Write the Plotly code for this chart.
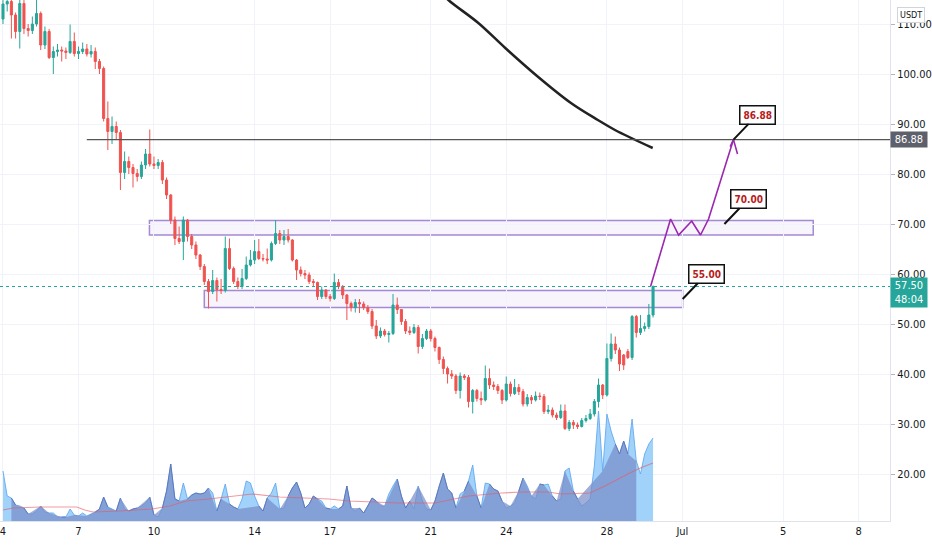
import pandas as pd
import plotly.graph_objects as go
from datetime import datetime, timedelta

########## CANDLES (4h, from Jun 4 00:00) ##########
opens = [111.0, 114.0, 114.5, 111.8, 108.5, 114.1, 109.1, 108.7, 110.0, 112.1,
         105.8, 108.5, 103.3, 104.5, 104.8, 104.6, 104.3, 106.5, 104.1, 104.5,
         105.0, 104.0, 104.5, 102.5, 101.1, 91.1, 88.5, 89.5, 88.3, 80.3,
         82.5, 81.3, 80.1, 79.5, 81.8, 84.0, 82.0, 81.7, 82.3, 78.8,
         75.8, 70.8, 67.1, 66.5, 70.8, 67.5, 65.8, 63.8, 61.5, 58.5,
         56.5, 58.7, 56.9, 56.7, 65.1, 61.1, 58.5, 57.5, 59.1, 61.8,
         62.8, 64.5, 63.1, 63.0, 62.8, 66.1, 68.1, 66.8, 67.5, 66.8,
         62.8, 60.8, 60.1, 59.8, 58.5, 58.3, 55.5, 56.8, 55.5, 55.1,
         58.3, 57.5, 55.8, 54.1, 53.3, 54.3, 54.0, 53.3, 52.5, 49.6,
         47.6, 48.6, 47.9, 48.1, 53.8, 52.9, 50.5, 48.6, 48.3, 49.3,
         45.5, 47.1, 48.6, 47.1, 45.3, 42.9, 41.1, 40.0, 39.6, 36.7,
         39.6, 39.3, 34.5, 36.7, 35.1, 34.8, 39.1, 37.8, 37.5, 36.7,
         34.8, 38.0, 36.1, 37.3, 36.5, 34.0, 35.3, 34.8, 35.6, 35.5,
         32.5, 32.8, 31.8, 31.3, 32.6, 29.1, 30.3, 29.8, 29.5, 30.7,
         31.1, 32.0, 34.5, 37.8, 35.8, 43.1, 46.0, 44.8, 43.8, 44.5,
         43.3, 51.5, 48.3, 49.1, 49.5, 51.8]
closes = [114.0, 114.5, 111.8, 108.5, 114.1, 109.1, 108.7, 110.0, 112.1, 105.8,
          108.5, 103.3, 104.5, 104.8, 104.6, 104.3, 106.5, 104.1, 104.5, 105.0,
          104.0, 104.5, 102.5, 101.1, 91.1, 88.5, 89.5, 88.3, 80.3, 82.5,
          81.3, 80.1, 79.5, 81.8, 84.0, 82.0, 81.7, 82.3, 78.8, 75.8,
          70.8, 67.1, 66.5, 70.8, 67.5, 65.8, 63.8, 61.5, 58.5, 56.5,
          58.7, 56.9, 56.7, 65.1, 61.1, 58.5, 57.5, 59.1, 61.8, 62.8,
          64.5, 63.1, 63.0, 62.8, 66.1, 68.1, 66.8, 67.5, 66.8, 62.8,
          60.8, 60.1, 59.8, 58.5, 58.3, 55.5, 56.8, 55.5, 55.1, 58.3,
          57.5, 55.8, 54.1, 53.3, 54.3, 54.0, 53.3, 52.5, 49.6, 47.6,
          48.6, 47.9, 48.1, 53.8, 52.9, 50.5, 48.6, 48.3, 49.3, 45.5,
          47.1, 48.6, 47.1, 45.3, 42.9, 41.1, 40.0, 39.6, 36.7, 39.6,
          39.3, 34.5, 36.7, 35.1, 34.8, 39.1, 37.8, 37.5, 36.7, 34.8,
          38.0, 36.1, 37.3, 36.5, 34.0, 35.3, 34.8, 35.6, 35.5, 32.5,
          32.8, 31.8, 31.3, 32.6, 29.1, 30.3, 29.8, 29.5, 30.7, 31.1,
          32.0, 34.5, 37.8, 35.8, 43.1, 46.0, 44.8, 42.0, 41.8, 43.3,
          51.5, 48.3, 49.1, 49.5, 51.8, 57.5]
highs = [115.5, 116.0, 115.5, 112.3, 115.0, 114.8, 110.0, 111.5, 114.8, 112.5,
         109.5, 109.0, 105.5, 106.0, 105.5, 105.3, 109.9, 108.3, 105.5, 106.3,
         106.0, 105.8, 105.3, 103.0, 101.5, 94.5, 91.5, 90.5, 88.8, 84.5,
         83.5, 82.0, 81.0, 82.5, 85.0, 88.9, 83.5, 83.0, 82.8, 79.3,
         76.0, 71.5, 69.5, 71.5, 71.0, 68.0, 66.5, 64.0, 62.0, 59.0,
         60.8, 59.3, 59.0, 67.5, 67.1, 61.5, 59.3, 61.0, 63.5, 64.8,
         66.8, 67.0, 64.0, 65.1, 66.5, 70.8, 68.8, 68.8, 69.0, 67.0,
         63.0, 61.5, 60.8, 60.3, 59.0, 58.5, 57.5, 57.0, 56.0, 60.1,
         59.0, 57.8, 56.0, 54.5, 55.0, 55.0, 54.5, 53.8, 53.0, 50.8,
         49.3, 49.0, 48.6, 56.0, 55.3, 53.0, 51.0, 49.5, 50.0, 49.8,
         48.0, 49.0, 49.0, 47.5, 45.5, 43.5, 41.5, 40.8, 40.0, 40.3,
         40.0, 39.8, 37.0, 37.0, 36.5, 41.7, 41.1, 38.5, 38.0, 37.0,
         39.5, 38.5, 39.0, 38.0, 37.0, 36.0, 35.8, 36.5, 36.3, 36.0,
         33.8, 33.3, 32.3, 33.9, 33.9, 30.8, 30.8, 30.3, 31.2, 31.8,
         33.0, 35.0, 39.1, 38.0, 46.1, 48.1, 47.5, 45.3, 44.0, 45.0,
         51.8, 51.8, 51.8, 50.3, 54.0, 57.7]
lows = [110.0, 112.5, 107.1, 107.1, 105.1, 108.0, 107.5, 108.0, 109.5, 104.8,
        105.0, 103.0, 100.0, 103.5, 102.5, 103.0, 104.0, 103.5, 103.0, 104.0,
        103.5, 103.3, 101.0, 100.0, 90.5, 84.8, 86.0, 87.0, 76.8, 79.0,
        80.0, 77.3, 78.5, 79.0, 81.0, 81.5, 81.0, 81.0, 78.0, 75.0,
        70.0, 65.8, 66.0, 62.8, 66.5, 65.0, 63.0, 60.8, 57.8, 53.1,
        56.0, 54.5, 56.0, 56.3, 60.8, 58.0, 57.0, 57.0, 58.8, 61.5,
        62.0, 62.8, 62.5, 62.0, 62.5, 65.8, 66.0, 65.8, 66.3, 62.5,
        58.8, 59.5, 59.0, 58.0, 57.5, 54.8, 55.0, 55.0, 54.5, 54.8,
        57.0, 55.0, 50.8, 52.5, 52.3, 52.2, 52.8, 52.0, 49.0, 47.0,
        47.2, 47.5, 46.3, 47.8, 52.0, 49.8, 48.0, 47.8, 48.0, 44.1,
        45.0, 46.8, 46.5, 44.5, 42.0, 40.0, 38.1, 39.0, 36.0, 35.1,
        38.8, 33.3, 32.1, 34.5, 33.8, 34.5, 37.0, 36.8, 36.0, 34.0,
        34.5, 35.5, 35.8, 35.8, 33.5, 33.5, 34.0, 34.5, 34.8, 32.0,
        32.0, 31.3, 30.8, 31.0, 28.8, 28.6, 29.0, 29.0, 29.3, 30.3,
        30.8, 31.5, 33.3, 35.0, 35.5, 42.5, 44.0, 40.6, 40.8, 43.0,
        42.8, 47.3, 47.8, 48.5, 49.0, 51.3]
volumes = [50, 25, 23, 16, 15, 13, 7, 7, 10, 15,
           9, 8, 8, 4, 4, 4, 12, 6, 5, 8,
           5, 7, 9, 12, 24, 14, 12, 10, 23, 12,
           10, 12, 13, 15, 18, 24, 6, 4, 13, 30,
           57, 22, 20, 38, 22, 26, 28, 27, 28, 33,
           28, 10, 22, 37, 17, 14, 12, 22, 40, 38,
           25, 15, 10, 23, 28, 38, 12, 13, 25, 33,
           39, 28, 13, 17, 25, 22, 20, 13, 12, 15,
           12, 15, 35, 13, 10, 13, 8, 15, 23, 20,
           15, 15, 27, 35, 42, 25, 13, 20, 12, 35,
           20, 12, 11, 20, 35, 48, 32, 28, 13, 27,
           30, 40, 56, 25, 13, 38, 37, 32, 30, 20,
           13, 15, 18, 30, 43, 35, 25, 22, 37, 36,
           37, 25, 20, 22, 50, 53, 30, 22, 15, 18,
           22, 55, 110, 50, 107, 90, 77, 67, 80, 67,
           102, 60, 47, 67, 77, 83]

# volume moving average (June day, value)
vol_ma_days = [4.0, 4.4, 5.47, 6.93, 7.25, 7.57, 8.63, 9.93, 10.62, 11.28,
               12.17, 13.12, 13.9, 15.0, 15.77, 16.95, 17.75, 18.93, 19.72, 21.17,
               22.5, 23.8, 24.67, 25.67, 26.17, 27.33, 27.92, 28.83, 29.33, 29.83]
vol_ma = [11, 13, 14, 14, 11, 9, 10, 12, 15, 20,
          22, 25, 27, 24, 23, 22, 20, 19, 18, 18,
          25, 28, 29, 29, 27, 28, 35, 47, 53, 58]

# black curve (indicator), June day / price
curve_days = [21.31, 21.70, 22.89, 23.96, 25.27, 26.57, 27.64, 28.32, 29.82]
curve_prices = [116.8, 114.8, 110.2, 105.2, 99.4, 94.2, 90.8, 88.8, 85.2]

# projected path drawing
path_days = [29.74, 30.53, 30.85, 31.37, 31.72, 32.04, 33.03]
path_prices = [57.6, 71.0, 67.8, 70.6, 67.8, 71.0, 86.88]
head_days = [32.90, 33.03, 33.19]
head_prices = [85.46, 86.88, 84.0]

# zones: (start day, end day, low, high)
zones = [(9.82, 36.2, 67.8, 70.7), (12.0, 31.01, 53.3, 56.7)]
level = 86.88
level_start = 7.33
last_price = 57.5

# callouts: (day, price, text)
callouts = [(33.03, 86.88, "86.88"), (32.67, 70.0, "70.00"), (31.01, 55.0, "55.00")]

tick_days = [4, 7, 10, 14, 17, 21, 24, 28, 31, 35, 38]
tick_text = ["4", "7", "10", "14", "17", "21", "24", "28", "Jul", "5", "8"]
price_ticks = [20, 30, 40, 50, 60, 70, 80, 90, 100, 110]

X_START = 3.881
X_END = 39.25


def day(d):
  return datetime(2021, 6, 1) + timedelta(days=d - 1)


times = pd.date_range("2021-06-04 00:00", periods=len(closes), freq="4h")
up = [c >= o for o, c in zip(opens, closes)]
vol_down = [v if not u else None for v, u in zip(volumes, up)]

FONT = "Liberation Sans Narrow, DejaVu Sans Condensed, Liberation Sans, sans-serif"
PURPLE = "#9c27b0"
ZONE = "rgba(149,117,205,0.85)"

fig = go.Figure()

########## VOLUME ##########
fig.add_trace(go.Scatter(x=times, y=volumes, yaxis="y2", mode="lines", fill="tozeroy",
                         line=dict(color="rgba(100,170,240,0.9)", width=1),
                         fillcolor="rgba(144,202,249,0.85)", hoverinfo="skip"))
fig.add_trace(go.Scatter(x=times, y=vol_down, yaxis="y2", mode="lines", fill="tozeroy",
                         connectgaps=False,
                         line=dict(color="rgba(90,110,180,0.8)", width=1),
                         fillcolor="rgba(120,140,200,0.7)", hoverinfo="skip"))
fig.add_trace(go.Scatter(x=[day(d) for d in vol_ma_days], y=vol_ma, yaxis="y2", mode="lines",
                         line=dict(color="rgba(229,90,100,0.6)", width=1.2), hoverinfo="skip"))

########## PRICE ##########
fig.add_trace(go.Candlestick(x=times, open=opens, high=highs, low=lows, close=closes,
                             increasing=dict(line=dict(color="#26a69a", width=1), fillcolor="#26a69a"),
                             decreasing=dict(line=dict(color="#ef5350", width=1), fillcolor="#ef5350"),
                             hoverinfo="skip"))

fig.add_trace(go.Scatter(x=[day(d) for d in curve_days], y=curve_prices, mode="lines",
                         line=dict(color="#222222", width=2.5, shape="spline"), hoverinfo="skip"))

fig.add_trace(go.Scatter(x=[day(d) for d in path_days], y=path_prices, mode="lines",
                         line=dict(color=PURPLE, width=1.6), hoverinfo="skip"))
fig.add_trace(go.Scatter(x=[day(d) for d in head_days], y=head_prices, mode="lines",
                         line=dict(color=PURPLE, width=1.6), hoverinfo="skip"))

for x0, x1, y0, y1 in zones:
  fig.add_shape(type="rect", x0=day(x0), x1=day(x1), y0=y0, y1=y1, xref="x", yref="y",
                line=dict(color=ZONE, width=1.5), fillcolor="rgba(149,117,205,0.08)", layer="below")

fig.add_shape(type="line", x0=day(level_start), x1=day(X_END), xref="x", y0=level, y1=level, yref="y",
              line=dict(color="#555555", width=1.3))
fig.add_shape(type="line", x0=0, x1=1, xref="paper", y0=last_price, y1=last_price, yref="y",
              line=dict(color="#26a69a", width=1, dash="dot"))

for d, p, txt in callouts:
  fig.add_annotation(x=day(d), y=p, text="<b>" + txt + "</b>", showarrow=True, arrowhead=0,
                     arrowwidth=2, arrowcolor="#111111", ax=24, ay=-25, standoff=0,
                     bgcolor="white", bordercolor="#111111", borderwidth=1.5, borderpad=3,
                     font=dict(family=FONT, size=10, color="#b71c1c"))

# right-axis tags
fig.add_annotation(xref="paper", x=1, xanchor="left", y=level, yanchor="middle", text="86.88",
                   showarrow=False, bgcolor="#5d606b", width=34, borderpad=1,
                   font=dict(family=FONT, size=11, color="white"))
fig.add_annotation(xref="paper", x=1, xanchor="left", y=56.4, yanchor="middle", text="57.50<br>48:04",
                   showarrow=False, bgcolor="#26a69a", width=34, borderpad=1,
                   font=dict(family=FONT, size=11, color="white"))
fig.add_annotation(xref="paper", x=1, xanchor="left", xshift=7, yref="paper", y=1, yanchor="top",
                   yshift=-7, text="USDT", showarrow=False, bgcolor="white", bordercolor="#d1d4dc",
                   borderwidth=1, borderpad=2, font=dict(family=FONT, size=9, color="#131722"))

fig.update_layout(
  width=932, height=550, margin=dict(l=0, r=39, t=0, b=29),
  paper_bgcolor="white", plot_bgcolor="white", showlegend=False,
  font=dict(family=FONT, size=11, color="#131722"),
  xaxis=dict(range=[day(X_START), day(X_END)], tickvals=[day(d) for d in tick_days], ticktext=tick_text,
             showgrid=True, gridcolor="#f0f3fa", showline=True, linecolor="#e0e3eb", linewidth=1,
             zeroline=False, rangeslider=dict(visible=False), ticks="", tickfont=dict(size=11),
             ticklabeloverflow="allow"),
  yaxis=dict(range=[10.6, 114.8], side="right", tickvals=price_ticks,
             ticktext=["%.2f" % t for t in price_ticks], showgrid=True, gridcolor="#f0f3fa",
             showline=True, linecolor="#e0e3eb", ticks="outside", ticklen=4, tickcolor="#b2b5be",
             zeroline=False, tickfont=dict(size=11)),
  yaxis2=dict(range=[0, 521], overlaying="y", visible=False, fixedrange=True),
)

# drop the browser's default page margin so the figure fills the window
fig.write_html("out.html", config={"displayModeBar": False},
               post_script="document.body.style.margin='0';")
